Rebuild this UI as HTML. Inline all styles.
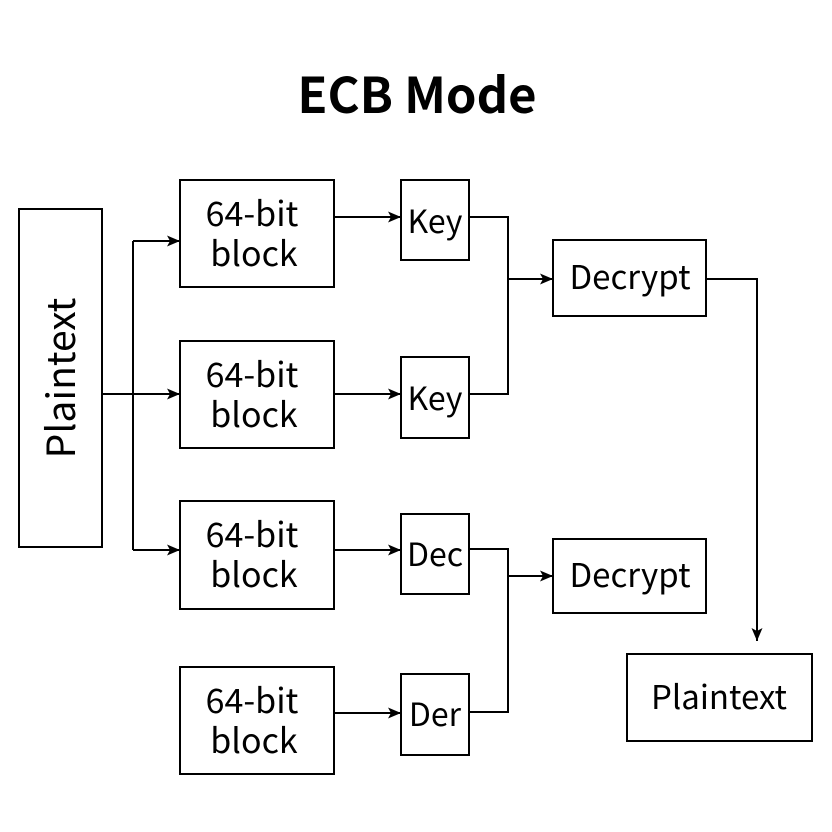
<!DOCTYPE html>
<html><head><meta charset="utf-8"><style>
html,body{margin:0;padding:0;background:#fff;}
svg{display:block;}
text{font-family:"Noto Sans CJK SC","Liberation Sans",sans-serif;fill:#000;}
</style></head><body>
<svg width="832" height="832" viewBox="0 0 832 832" xmlns="http://www.w3.org/2000/svg">
<defs><marker id="a" markerWidth="13" markerHeight="11" refX="13" refY="5.5" orient="auto" markerUnits="userSpaceOnUse"><path d="M0,0 L13,5.5 L0,11 L3,5.5 Z" fill="#000"/></marker></defs>
<text x="417" y="113" text-anchor="middle" font-size="49" font-weight="bold">ECB Mode</text>
<g fill="none" stroke="#000" stroke-width="2">
<rect x="19" y="209" width="83" height="338"/>
<rect x="180" y="180" width="154" height="107"/>
<rect x="180" y="341" width="154" height="107"/>
<rect x="180" y="501" width="154" height="108"/>
<rect x="180" y="667" width="154" height="107"/>
<rect x="401" y="180" width="68" height="80"/>
<rect x="401" y="357" width="68" height="81"/>
<rect x="401" y="514" width="68" height="80"/>
<rect x="401" y="674" width="68" height="81"/>
<rect x="553" y="240" width="153" height="76"/>
<rect x="553" y="539" width="153" height="74"/>
<rect x="627" y="654" width="185" height="87"/>
<path d="M102,394 H133 M133,241 V550"/>
<path d="M133,241 H180" marker-end="url(#a)"/>
<path d="M133,394 H180" marker-end="url(#a)"/>
<path d="M133,550 H180" marker-end="url(#a)"/>
<path d="M334,217 H401" marker-end="url(#a)"/>
<path d="M334,394 H401" marker-end="url(#a)"/>
<path d="M334,550 H401" marker-end="url(#a)"/>
<path d="M334,713 H401" marker-end="url(#a)"/>
<path d="M469,217 H508 V394 H469"/>
<path d="M508,279 H553" marker-end="url(#a)"/>
<path d="M469,549 H508 V712 H469"/>
<path d="M508,576 H553" marker-end="url(#a)"/>
<path d="M706,279 H757 V641" marker-end="url(#a)"/>
</g>
<text transform="translate(75,378) rotate(-90)" text-anchor="middle" font-size="39">Plaintext</text>
<g font-size="34" text-anchor="middle">
<text x="252" y="226">64-bit</text><text x="254" y="266">block</text>
<text x="252" y="387">64-bit</text><text x="254" y="427">block</text>
<text x="252" y="547">64-bit</text><text x="254" y="587">block</text>
<text x="252" y="713">64-bit</text><text x="254" y="753">block</text>
</g>
<g font-size="32" text-anchor="middle">
<text x="435" y="233">Key</text>
<text x="435" y="410">Key</text>
<text x="435" y="566">Dec</text>
<text x="435" y="726">Der</text>
</g>
<g font-size="33" text-anchor="middle">
<text x="630" y="289">Decrypt</text>
<text x="630" y="587">Decrypt</text>
<text x="719" y="709">Plaintext</text>
</g>
</svg>
</body></html>
